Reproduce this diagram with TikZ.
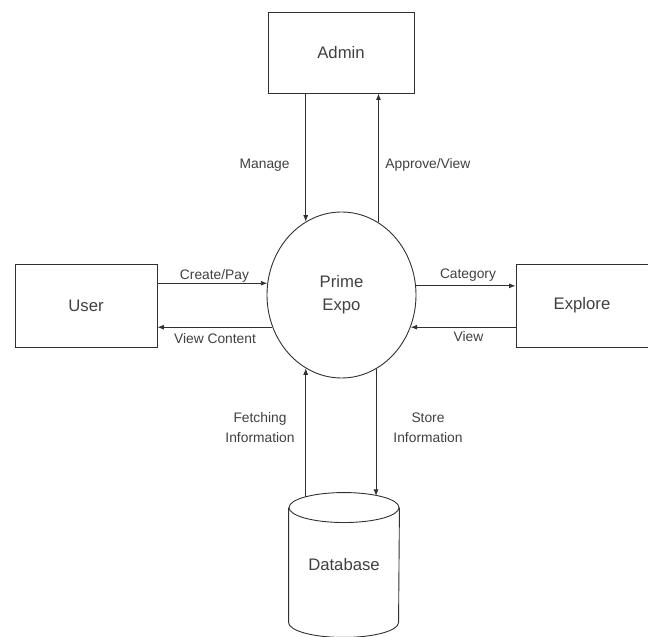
\documentclass[tikz,border=0pt]{standalone}
\usepackage{fontspec}
\setmainfont{Liberation Sans}
\usetikzlibrary{shapes.geometric,arrows.meta}
\definecolor{linec}{HTML}{303030}
\definecolor{textc}{HTML}{404040}
\tikzset{
  every picture/.style={line width=0.9pt},
  entity/.style={draw=linec, rectangle, inner sep=0pt, text=textc,
    font=\fontsize{16.7}{20}\selectfont},
  process/.style={draw=linec, ellipse, inner sep=0pt, minimum width=149pt,
    minimum height=166pt, text=textc, align=center,
    font=\fontsize{16.7}{23}\selectfont},
  flow/.style={draw=linec, -{Latex[length=6.5pt,width=5pt]}},
  flowlabel/.style={text=textc, inner sep=0pt, align=center,
    font=\fontsize{13.8}{20}\selectfont},
}
\begin{document}
\begin{tikzpicture}[x=1pt,y=1pt]
  \useasboundingbox (0,0) rectangle (648,637);

  % external entities (Explore runs off the right edge of the page)
  \node[entity, minimum width=146pt, minimum height=81pt] (admin) at (341,584.5) {Admin};
  \node[entity, minimum width=142pt, minimum height=83pt] (user) at (86,331.5) {User};
  \node[entity, minimum width=140pt, minimum height=83pt] (explore) at (586,331.5) {\hspace*{-8pt}Explore};

  % central process
  \node[process] (pe) at (341.5,342) {Prime\\Expo};

  % data store drawn as a cylinder
  \node[rectangle, inner sep=0pt, minimum width=110pt, minimum height=114pt,
        text=textc, font=\fontsize{16.7}{20}\selectfont] (db) at (344,72) {Database};
  \draw[linec] (db.north west) -- (db.south west)
    arc[start angle=180, end angle=360, x radius=55, y radius=15]
    -- (db.north east);
  \draw[linec] (db.north) ellipse[x radius=55, y radius=15];
  \coordinate (dbfetch) at (306,139.8);
  \coordinate (dbstore) at (377,141);

  % admin flows
  \draw[flow] (pe.116.75 |- admin.south) -- (pe.116.75);
  \draw[flow] (pe.63.25) -- (pe.63.25 |- admin.south);
  \node[flowlabel, anchor=east] at (290,472) {Manage};
  \node[flowlabel, anchor=west] at (385,472) {Approve/View};

  % user flows
  \draw[flow] (user.east |- pe.171.9) -- (pe.171.9);
  \draw[flow] (pe.205) -- (user.east |- pe.205);
  \node[flowlabel] at (214.5,361) {Create/Pay};
  \node[flowlabel] at (215,298) {View Content};

  % explore flows
  \draw[flow] (pe.7.7) -- (explore.west |- pe.7.7);
  \draw[flow] (explore.west |- pe.-25) -- (pe.-25);
  \node[flowlabel] at (468,362) {Category};
  \node[flowlabel] at (468.5,300) {View};

  % database flows
  \draw[flow] (pe.244.06 |- dbfetch) -- (pe.244.06);
  \draw[flow] (pe.295.94) -- (pe.295.94 |- dbstore);
  \node[flowlabel] at (260,209) {Fetching\\Information};
  \node[flowlabel] at (428,209) {Store\\Information};
\end{tikzpicture}
\end{document}
